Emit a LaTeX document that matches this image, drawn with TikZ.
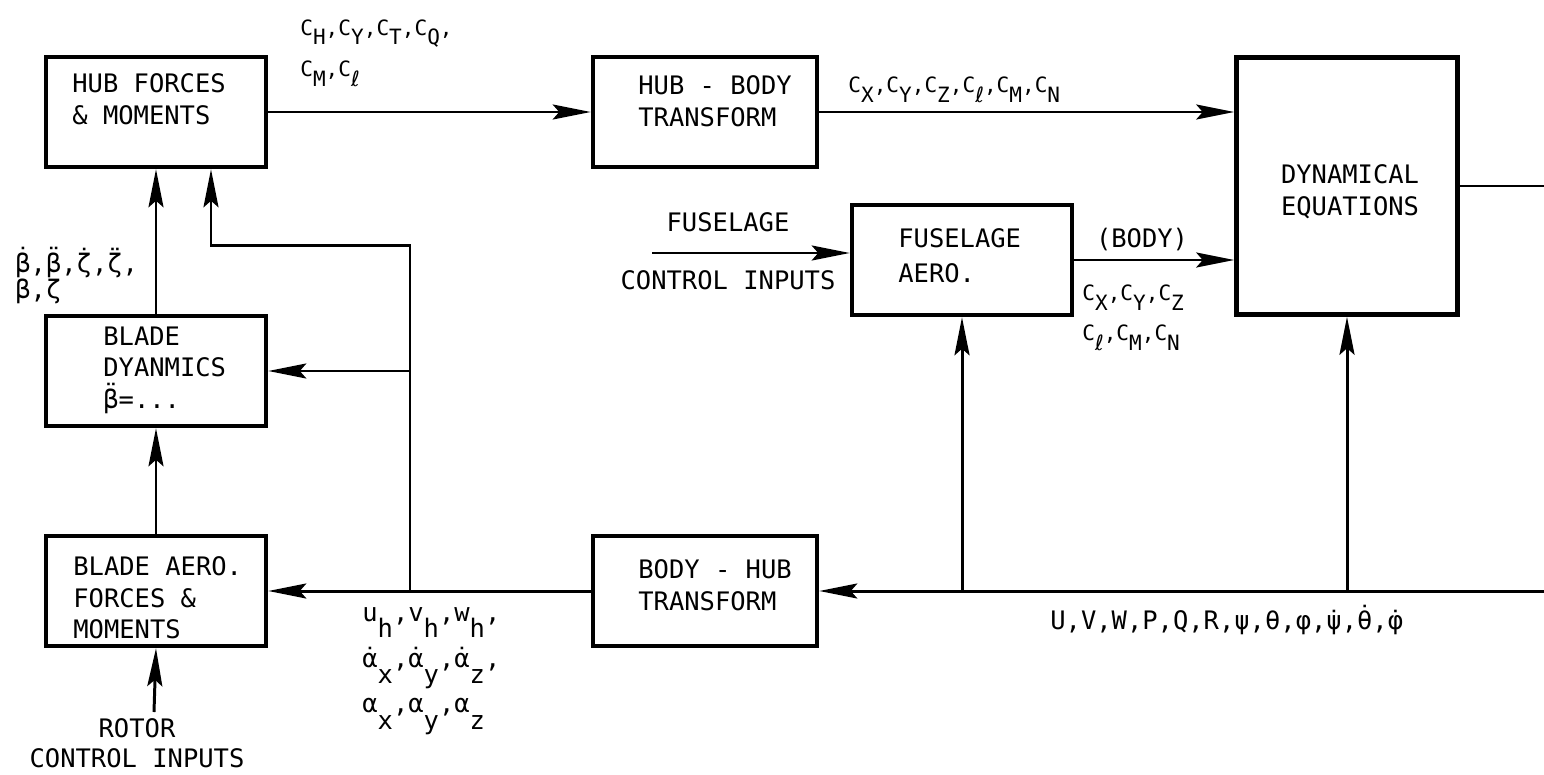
\documentclass[tikz,border=0pt]{standalone}
\usepackage{fontspec}
\setmonofont{DejaVu Sans Mono}
\newfontfamily\ellfont{DejaVu Sans}
\usepackage{tikz}
\usetikzlibrary{positioning, calc, arrows.meta}

% subscripts, dots and the script l
\newcommand{\lo}[2][0.45em]{\raisebox{-#1}{#2}}
\newcommand{\litl}{{\ellfont ℓ}}
\newcommand{\overmark}[2]{\leavevmode\setbox0\hbox{#2}\rlap{\copy0}%
  \hbox to \wd0{\hss\raisebox{\dimexpr\ht0-\fontdimen5\font\relax}{#1}\hss}}
\newcommand{\dt}[1]{\overmark{^^^^02d9}{#1}}
\newcommand{\ddt}[1]{\overmark{^^^^00a8}{#1}}
\newcommand{\boxfont}{\ttfamily\fontsize{14.5}{18}\selectfont}
\newcommand{\coeffont}{\ttfamily\fontsize{12}{23.8}\selectfont}

\tikzset{
  blk/.style={draw, line width=2.6pt, minimum width=4.4cm, minimum height=2.2cm, inner sep=0pt},
  txt/.style={font=\boxfont, align=left, anchor=west, inner sep=0pt},
  lbl/.style={font=\boxfont, align=center, inner sep=0pt},
  coef/.style={font=\coeffont, align=left, anchor=west, inner sep=0pt},
  conn/.style={line width=1.7pt, -{Stealth[length=7.6mm,width=3mm,inset=1.3mm]}},
  wire/.style={line width=1.3pt},
}

\begin{document}
\begin{tikzpicture}[x=0.02cm, y=-0.02cm]
  \useasboundingbox (0,0) rectangle (1544,774);

  % blocks
  \node[blk] (hubfm) at (156,112) {};
  \node[blk] (bladedyn) at (156,371) {};
  \node[blk] (bladeaero) at (156,591) {};
  \node[blk, minimum width=4.48cm] (hubbody) at (705,112) {};
  \node[blk, minimum width=4.48cm] (bodyhub) at (705,591) {};
  \node[blk] (fusaero) at (962,260) {};
  \node[blk, minimum width=4.42cm, minimum height=5.14cm] (dyneq) at (1347,186) {};

  % block texts
  \node[txt] (hubfmtxt) at (72,99) {HUB FORCES\\\& MOMENTS};
  \node[txt] (bladedyntxt) at (103,370) {BLADE\\DYANMICS\\\ddt{β}=...};
  \node[txt] (bladeaerotxt) at (73,598) {BLADE AERO.\\FORCES \&\\MOMENTS};
  \node[txt] (hubbodytxt) at (638,101) {HUB - BODY\\TRANSFORM};
  \node[txt] (bodyhubtxt) at (638,585) {BODY - HUB\\TRANSFORM};
  \node[txt] (fusaerotxt) at (898,256) {FUSELAGE\\[2pt]AERO.};
  \node[lbl] (dyneqtxt) at (1350,192) {DYNAMICAL\\EQUATIONS};

  % signal labels
  \node[coef] (hubcoef) at (300,53) {C\lo{H},C\lo{Y},C\lo{T},C\lo{Q},\\C\lo{M},C\lo{\litl}};
  \node[coef] (bodycoef) at (848,90) {C\lo{X},C\lo{Y},C\lo{Z},C\lo{\litl},C\lo{M},C\lo{N}};
  \node[lbl] (bodytag) at (1142,240) {(BODY)};
  \node[coef, font=\ttfamily\fontsize{12}{22.8}\selectfont] (fuscoef) at (1082,318) {C\lo{X},C\lo{Y},C\lo{Z}\\C\lo{\litl},C\lo{M},C\lo{N}};
  \node[lbl] (fustop) at (728,222) {FUSELAGE};
  \node[lbl] (fusbot) at (728,280) {CONTROL INPUTS};
  \node[txt, font=\ttfamily\fontsize{14.5}{14.8}\selectfont] (betalbl) at (15,276) {\dt{β},\ddt{β},\dt{ζ},\ddt{ζ},\\β,ζ};
  \node[txt, font=\ttfamily\fontsize{14.5}{26}\selectfont] (hublbl) at (362,671)
    {u\lo[0.65em]{h},v\lo[0.65em]{h},w\lo[0.65em]{h},\\
     \dt{α}\lo[0.65em]{x},\dt{α}\lo[0.65em]{y},\dt{α}\lo[0.65em]{z},\\
     α\lo[0.65em]{x},α\lo[0.65em]{y},α\lo[0.65em]{z}};
  \node[txt] (statelbl) at (1050,620) {U,V,W,P,Q,R,ψ,θ,φ,\dt{ψ},\dt{θ},\dt{φ}};
  \node[lbl, font=\ttfamily\fontsize{14.5}{17}\selectfont] (rotorlbl) at (137,743) {ROTOR\\CONTROL INPUTS};

  % free ends
  \coordinate (fusin) at (652,253);
  \coordinate (rotorin) at (154,712);
  \coordinate (outR) at (1544,186);
  \coordinate (fbR) at (1544,591);
  \coordinate (tap) at (410,591);

  % forward path
  \draw[conn] (hubfm.east) -- (hubbody.west);
  \draw[conn] (hubbody.east) -- (hubbody.east -| dyneq.west);
  \draw[conn] (fusin) -- (fusin -| fusaero.west);
  \draw[conn] (fusaero.east) -- (fusaero.east -| dyneq.west);
  \draw[wire] (dyneq.east) -- (outR);

  % feedback path
  \draw[conn] (fbR) -- (bodyhub.east);
  \draw[conn] (bodyhub.east -| fusaero.south) -- (fusaero.south);
  \draw[conn] (bodyhub.east -| dyneq.south) -- (dyneq.south);
  \draw[conn] (bodyhub.west) -- (bladeaero.east);
  \draw[conn] (tap) |- (bladedyn.east);
  \draw[conn] (tap) |- ($(hubfm.south)+(55,76)$) -- ($(hubfm.south)+(55,0)$);

  % rotor chain
  \draw[conn] (rotorin) -- (bladeaero.south);
  \draw[conn] (bladeaero.north) -- (bladedyn.south);
  \draw[conn] (bladedyn.north) -- (hubfm.south);
\end{tikzpicture}
\end{document}
